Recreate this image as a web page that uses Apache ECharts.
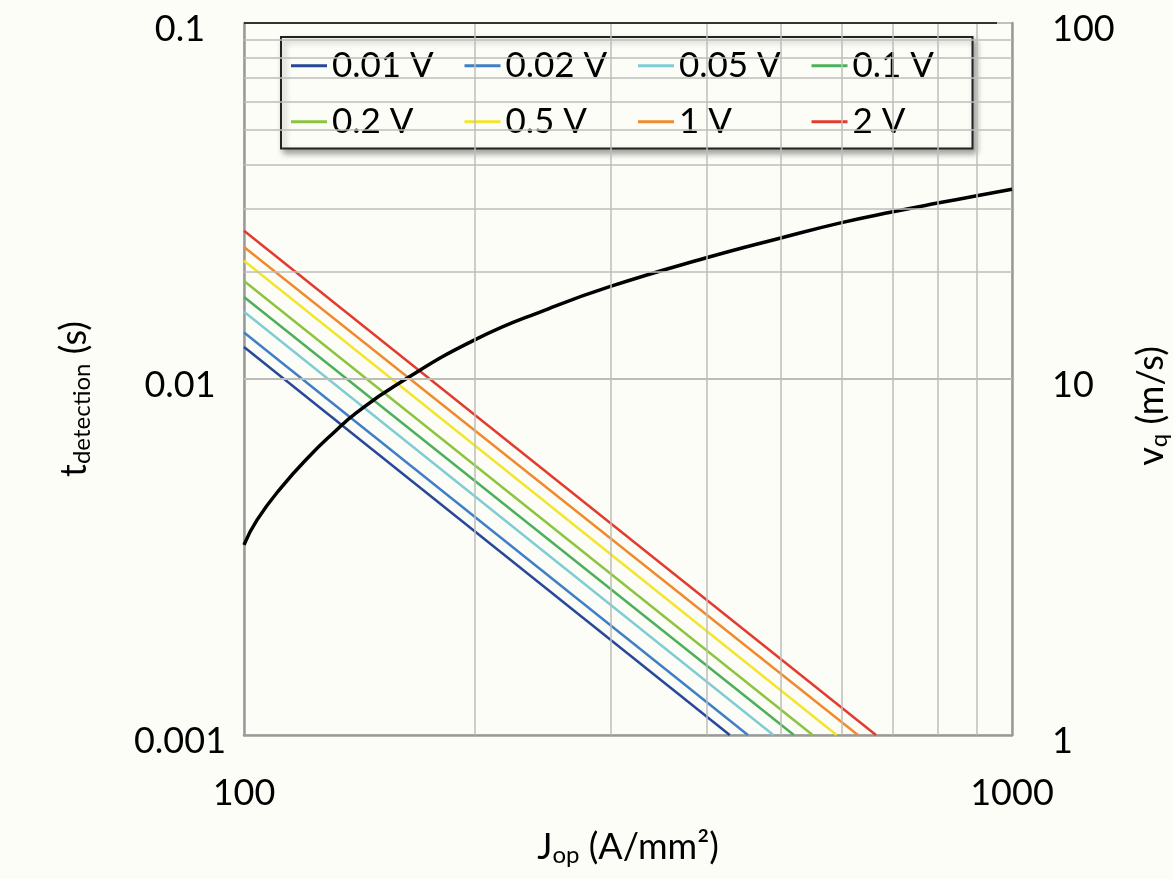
<!DOCTYPE html>
<html>
<head>
<meta charset="utf-8">
<script src="https://cdn.jsdelivr.net/npm/echarts@6/dist/echarts.min.js"></script>
<style>
html,body{margin:0;padding:0;background:#fdfdf7;}
#c{width:1173px;height:879px;}
</style>
</head>
<body>
<div id="c"></div>
<script>
// ---- data ----
const seriesNames = ['0.01 V','0.02 V','0.05 V','0.1 V','0.2 V','0.5 V','1 V','2 V'];
const seriesColors = ['#27479a','#3f7fc6','#80ccd6','#4caf5c','#8dc43f','#f2e52e','#f08a2e','#e23b2f'];
const jStart = 100;
const tAtStart = [0.0123, 0.0135, 0.01545, 0.0170, 0.01885, 0.0215, 0.0235, 0.0261];
const jAtTmin = [429, 453, 489, 520, 550, 591, 630, 665];
const tMin = 0.001;
const vqJ = [100, 104, 112, 122, 130.5, 140, 158, 200, 250, 300, 400, 500, 600, 700, 800, 900, 1000];
const vqV = [3.42, 4.02, 4.98, 6.11, 7.03, 8.03, 9.64, 12.9, 15.8, 18.2, 21.9, 24.9, 27.5, 29.5, 31.2, 32.7, 34.1];
const xMinorGrid = [200, 300, 400, 500, 600, 700, 800, 900];
const yMinorGrid = [0.002,0.003,0.004,0.005,0.006,0.007,0.008,0.009,0.02,0.03,0.04,0.05,0.06,0.07,0.08,0.09];
const topLineEndJ = 956;

const FONT = 'Lato';
const chart = echarts.init(document.getElementById('c'), null, {renderer:'canvas'});

const gridLineStyle = {color:'#bdbdba', width:1.5, type:'solid'};
const markData = xMinorGrid.map(v => ({xAxis:v})).concat(yMinorGrid.map(v => ({yAxis:v})));

const series = [{
  name:'__grid', type:'line', data:[], xAxisIndex:0, yAxisIndex:0, z:1, silent:true,
  markLine:{silent:true, symbol:'none', label:{show:false}, lineStyle:gridLineStyle, animation:false,
    data: markData.concat([[{coord:[jStart,0.1], lineStyle:{color:'#333',width:2}},{coord:[topLineEndJ,0.1]}]])}
}];
seriesNames.forEach((n,i) => {
  series.push({
    name:n, type:'line', xAxisIndex:0, yAxisIndex:0, z:3, showSymbol:false, symbol:'none',
    lineStyle:{color:seriesColors[i], width:2.5}, itemStyle:{color:seriesColors[i]},
    data:[[jStart, tAtStart[i]],[jAtTmin[i], tMin]], animation:false
  });
});
series.push({
  name:'vq', type:'line', xAxisIndex:0, yAxisIndex:1, z:4, showSymbol:false, symbol:'none',
  smooth:0.5,
  lineStyle:{color:'#000', width:3.5}, itemStyle:{color:'#000'},
  data: vqJ.map((j,i)=>[j, vqV[i]]), animation:false
});

const plainNum = v => String(v);
const shiftedNum = v => '{a|' + v + '}';
const shiftedRich = {a:{fontFamily:FONT, fontSize:36, color:'#000', lineHeight:36, padding:[12,0,0,0]}};

chart.setOption({
  backgroundColor:'#fdfdf7',
  animation:false,
  textStyle:{fontFamily:FONT},
  grid:{left:244, right:161, top:23, bottom:144, containLabel:false, outerBoundsMode:'none'},
  legend:{
    data:seriesNames, left:281, top:37, orient:'horizontal', width:700,
    itemWidth:36, itemHeight:3, icon:'rect', itemGap:14.5,
    padding:[8,2,6,10],
    backgroundColor:'#fdfdf7', borderColor:'#222', borderWidth:2,
    shadowColor:'rgba(0,0,0,0.35)', shadowBlur:6, shadowOffsetX:3, shadowOffsetY:4,
    textStyle:{fontFamily:FONT, fontSize:35, color:'#000', width:118, lineHeight:41.5}
  },
  xAxis:{
    type:'log', logBase:10, min:100, max:1000,
    name:'{m|J}{s|op}{m| (A/mm²)}', nameLocation:'middle', nameGap:92,
    nameTextStyle:{rich:{m:{fontFamily:FONT,fontSize:36,color:'#000',lineHeight:40},
      s:{fontFamily:FONT,fontSize:24,color:'#000',lineHeight:24,padding:[22,0,0,0],verticalAlign:'bottom'}}},
    axisLine:{show:true, lineStyle:{color:'#9a9a9a', width:2.5}},
    axisTick:{show:false},
    axisLabel:{fontFamily:FONT, fontSize:36, color:'#000', margin:40, formatter:plainNum},
    splitLine:{show:true, lineStyle:{color:'#bdbdba', width:1.5}},
    minorTick:{show:false}, minorSplitLine:{show:false}
  },
  yAxis:[{
    type:'log', logBase:10, min:0.001, max:0.1, position:'left',
    name:'{m|t}{s|detection}{m| (s)}', nameLocation:'middle', nameGap:150, nameRotate:90,
    nameTextStyle:{padding:[0,40,0,0], rich:{m:{fontFamily:FONT,fontSize:36,color:'#000',lineHeight:40},
      s:{fontFamily:FONT,fontSize:24,color:'#000',lineHeight:24,padding:[22,0,0,0],verticalAlign:'bottom'}}},
    axisLine:{show:true, lineStyle:{color:'#9a9a9a', width:2.5}},
    axisTick:{show:false},
    axisLabel:{fontFamily:FONT, fontSize:36, color:'#000', margin:64, align:'center', formatter:shiftedNum, rich:shiftedRich},
    splitLine:{show:true, lineStyle:{color:'#bdbdba', width:1.5}}
  },{
    type:'log', logBase:10, min:1, max:100, position:'right',
    name:'{m|v}{s|q}{m| (m/s)}', nameLocation:'middle', nameGap:103, nameRotate:90,
    nameTextStyle:{padding:[0,54,0,0], rich:{m:{fontFamily:FONT,fontSize:36,color:'#000',lineHeight:40},
      s:{fontFamily:FONT,fontSize:24,color:'#000',lineHeight:24,padding:[22,0,0,0],verticalAlign:'bottom'}}},
    axisLine:{show:true, lineStyle:{color:'#9a9a9a', width:2.5}},
    axisTick:{show:false},
    axisLabel:{fontFamily:FONT, fontSize:36, color:'#000', margin:40, formatter:shiftedNum, rich:shiftedRich},
    splitLine:{show:false}
  }],
  series: series
});
</script>
</body>
</html>
